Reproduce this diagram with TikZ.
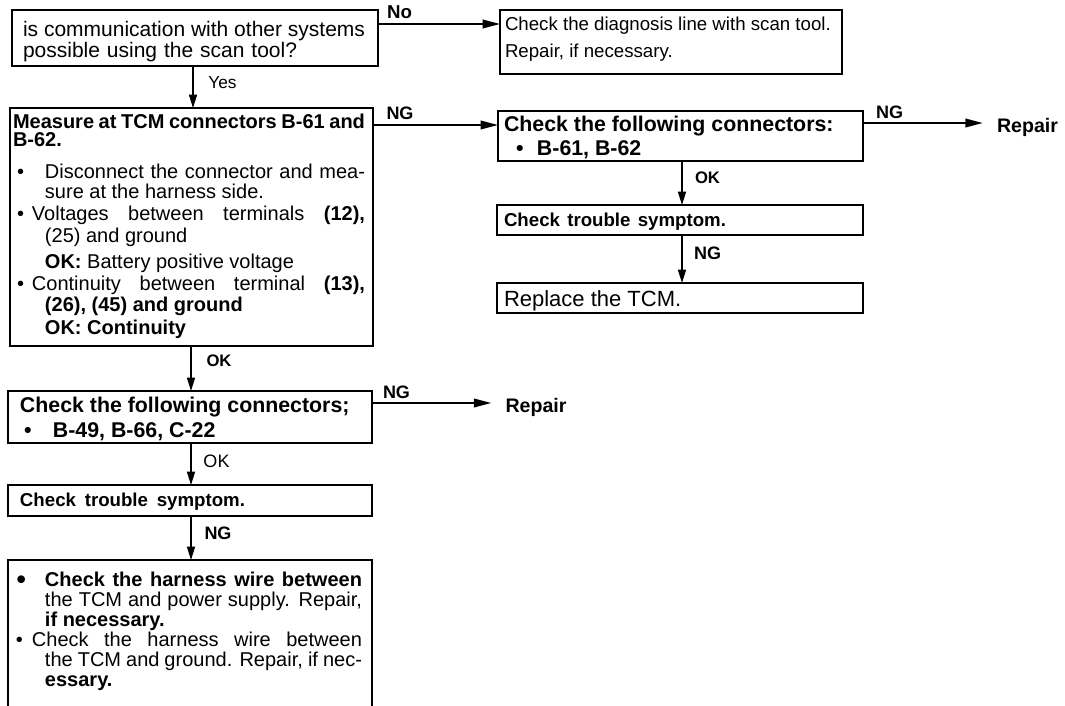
\documentclass[tikz,border=0pt]{standalone}
\usepackage{fontspec}
\setmainfont{Liberation Sans}
\usetikzlibrary{arrows.meta}
\begin{document}
\begin{tikzpicture}[x=0.75pt,y=-0.75pt,
  boxs/.style={draw, line width=1.8pt, anchor=north west, inner sep=0pt, outer sep=0pt},
  txt/.style={anchor=north west, inner sep=0pt, outer sep=0pt, align=left},
  harr/.style={line width=1.1pt, -{Triangle[length=13pt,width=6.5pt]}},
  varr/.style={line width=1.1pt, -{Triangle[length=10pt,width=6pt]}},
  lblb/.style={font=\bfseries\fontsize{13.5}{14}\selectfont, inner sep=0pt},
  lblr/.style={font=\fontsize{13}{14}\selectfont, inner sep=0pt},
  repair/.style={font=\bfseries\fontsize{14.7}{16}\selectfont, inner xsep=10.5pt, inner ysep=0pt}]

\useasboundingbox (0,0) rectangle (1065,706);

% boxes
\node[boxs, minimum width=274.5pt, minimum height=42pt] (q1) at (12,10) {};
\node[boxs, minimum width=256.5pt, minimum height=48pt] (q2) at (500,10) {};
\node[boxs, minimum width=272.25pt, minimum height=178.5pt] (mb) at (10,108) {};
\node[boxs, minimum width=273.75pt, minimum height=37.5pt] (ra) at (498,111) {};
\node[boxs, minimum width=274.5pt, minimum height=22.5pt] (rb) at (497,205) {};
\node[boxs, minimum width=274.5pt, minimum height=22.5pt] (rc) at (497,283) {};
\node[boxs, minimum width=273pt, minimum height=39pt] (ld) at (8,391) {};
\node[boxs, minimum width=273pt, minimum height=23.25pt] (le) at (8,485) {};
\node[boxs, minimum width=273pt, minimum height=114pt] (lf) at (8,560) {};

% texts
\node[txt, font=\fontsize{15.75}{15.75}\selectfont] (q1t) at (23,21)
 {\makebox[256.5pt][s]{is communication with other systems}\\
  \makebox[205.5pt][s]{possible using the scan tool?}};

\node[txt, font=\fontsize{14}{20.25}\selectfont] (q2t) at (505,17)
 {Check the diagnosis line with scan tool.\\Repair, if necessary.};

\node[txt, font=\fontsize{15}{16.5}\selectfont] (mbt) at (13,114)
 {{\bfseries\makebox[264pt][s]{Measure at TCM connectors B-61 and}}\\[-3pt]
  \textbf{B-62.}\\[7.5pt]
  \makebox[24pt][l]{\hspace{3pt}•}\makebox[240pt][s]{Disconnect the connector and mea-}\\[-1.5pt]
  \hspace*{24pt}sure at the harness side.\\
  \makebox[14.25pt][l]{\hspace{3pt}•}\makebox[249.75pt][s]{Voltages between terminals \textbf{(12),}}\\
  \hspace*{24pt}(25) and ground\\[3pt]
  \hspace*{24pt}\textbf{OK:} Battery positive voltage\\
  \makebox[14.25pt][l]{\hspace{3pt}•}\makebox[249.75pt][s]{Continuity between terminal \textbf{(13),}}\\[-0.75pt]
  \hspace*{24pt}\textbf{(26), (45) and ground}\\[0.75pt]
  \hspace*{24pt}\textbf{OK: Continuity}};

\node[txt, font=\bfseries\fontsize{16}{18}\selectfont] (rat) at (504,116)
 {Check the following connectors:\\
  \makebox[24.75pt][l]{\hspace{9pt}•}B-61, B-62};

\node[txt, font=\bfseries\fontsize{14}{16}\selectfont] (rbt) at (504,213)
 {\makebox[166.5pt][s]{Check trouble symptom.}};

\node[txt, font=\fontsize{16.5}{17}\selectfont] (rct) at (504,291)
 {Replace the TCM.};

\node[txt, font=\bfseries\fontsize{16}{18.75}\selectfont] (ldt) at (20,397)
 {Check the following connectors;\\
  \makebox[24.75pt][l]{\hspace{3pt}•}B-49, B-66, C-22};

\node[txt, font=\bfseries\fontsize{14}{16}\selectfont] (let) at (20,493)
 {\makebox[168.75pt][s]{Check trouble symptom.}};

\node[txt, font=\fontsize{15}{15}\selectfont] (lft) at (14,572)
 {\makebox[23.25pt][l]{\hspace{2pt}\raisebox{-1.8pt}{\fontsize{20}{15}\selectfont\bfseries •}}\textbf{\makebox[237.75pt][s]{Check the harness wire between}}\\
  \hspace*{23.25pt}\makebox[237.75pt][s]{the TCM and power supply. Repair,}\\
  \hspace*{23.25pt}\textbf{if necessary.}\\
  \makebox[13.5pt][l]{\hspace{1.5pt}•}\makebox[247.5pt][s]{Check the harness wire between}\\
  \hspace*{23.25pt}\makebox[237.75pt][s]{the TCM and ground. Repair, if nec-}\\
  \hspace*{23.25pt}\textbf{essary.}};

% labels
\node[lblb, font=\bfseries\fontsize{14}{14}\selectfont] (lNo) at (399.5,12) {No};
\node[lblr] (lYes) at (222.5,83) {Yes};
\node[lblb] (lNG1) at (400,113) {NG};
\node[lblb] (lNG2) at (889.5,112) {NG};
\node[repair] (rep1) at (1027.5,127) {Repair};
\node[lblb, font=\bfseries\fontsize{12.5}{13}\selectfont] (lOK1) at (707.5,178) {OK};
\node[lblb] (lNG3) at (707.5,253) {NG};
\node[lblb, font=\bfseries\fontsize{12.5}{13}\selectfont] (lOK2) at (219,361) {OK};
\node[lblb] (lNG4) at (396.5,392) {NG};
\node[repair] (rep2) at (536,407) {Repair};
\node[lblr, font=\fontsize{13.5}{14}\selectfont] (lOK3) at (216.5,461) {OK};
\node[lblb] (lNG5) at (218,533) {NG};

% connectors
\draw[harr] (q1.east |- 0,24) -- (q2.west |- 0,24);
\draw[varr] (q1.south -| 193,0) -- (mb.north -| 193,0);
\draw[harr] (mb.east |- 0,125) -- (ra.west |- 0,125);
\draw[harr] (ra.east |- 0,123) -- (rep1.west |- 0,123);
\draw[varr] (ra.south -| 682,0) -- (rb.north -| 682,0);
\draw[varr] (rb.south -| 682,0) -- (rc.north -| 682,0);
\draw[varr] (mb.south -| 191,0) -- (ld.north -| 191,0);
\draw[harr] (ld.east |- 0,403) -- (rep2.west |- 0,403);
\draw[varr] (ld.south -| 191,0) -- (le.north -| 191,0);
\draw[varr] (le.south -| 191,0) -- (lf.north -| 191,0);
\end{tikzpicture}
\end{document}
